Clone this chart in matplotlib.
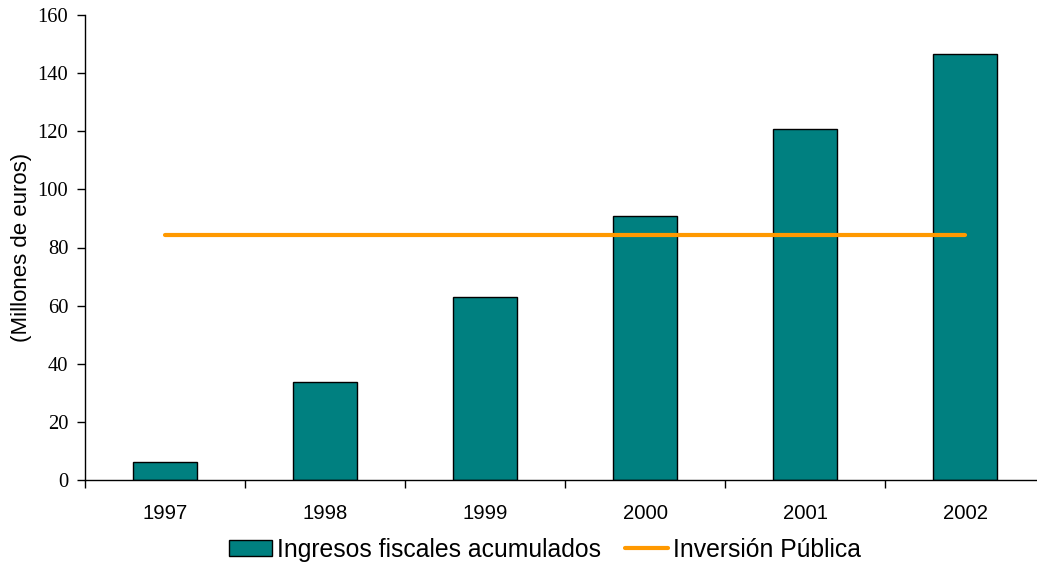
import matplotlib.pyplot as plt
import numpy as np
from matplotlib.ticker import FixedLocator, NullFormatter

years = ["1997", "1998", "1999", "2000", "2001", "2002"]
ingresos = [6.1, 33.6, 63.0, 90.8, 120.7, 146.6]
inversion = [84.2] * len(years)
y_ticks = [0, 20, 40, 60, 80, 100, 120, 140, 160]

teal = "#008080"
orange = "#FF9900"

fig = plt.figure(figsize=(10.37, 5.65), dpi=100)
ax = fig.add_axes([85 / 1037, 85 / 565, 960 / 1037, 465 / 565])

x = np.arange(len(years))
bars = ax.bar(x, ingresos, width=0.4, color=teal, edgecolor="black",
              linewidth=1.0, label="Ingresos fiscales acumulados", zorder=2)
line, = ax.plot(x, inversion, color=orange, linewidth=3.0,
                solid_capstyle="round", label="Inversión Pública", zorder=3)

ax.set_xlim(-0.5, len(years) - 0.5)
ax.set_ylim(0, 160)
ax.set_yticks(y_ticks)
ax.set_yticklabels([str(v) for v in y_ticks], family="Liberation Serif", fontsize=14.8)

# category boundaries get the tick marks, centres get the labels
ax.xaxis.set_major_locator(FixedLocator(np.arange(-0.5, len(years), 1.0)))
ax.xaxis.set_major_formatter(NullFormatter())
ax.xaxis.set_minor_locator(FixedLocator(x))
ax.set_xticklabels(years, minor=True, family="Liberation Sans", fontsize=14.6)
ax.tick_params(axis="x", which="major", direction="out", length=6, width=1)
ax.tick_params(axis="x", which="minor", length=0, pad=17.5)
ax.tick_params(axis="y", direction="out", length=6, width=1, pad=6)

for side in ("top", "right"):
    ax.spines[side].set_visible(False)
for side in ("left", "bottom"):
    ax.spines[side].set_linewidth(1.0)

ax.set_ylabel("(Millones de euros)", family="Liberation Sans", fontsize=16)
ax.yaxis.set_label_coords(-0.055, 0.5)

fig.legend(handles=[bars, line], loc="center", bbox_to_anchor=(0.5256, 0.027),
           ncol=2, frameon=False, prop={"family": "Liberation Sans", "size": 17.8},
           handlelength=1.73, handleheight=0.66, handletextpad=0.2,
           columnspacing=1.0, borderaxespad=0, borderpad=0)

fig.savefig("out.png", dpi=100)
